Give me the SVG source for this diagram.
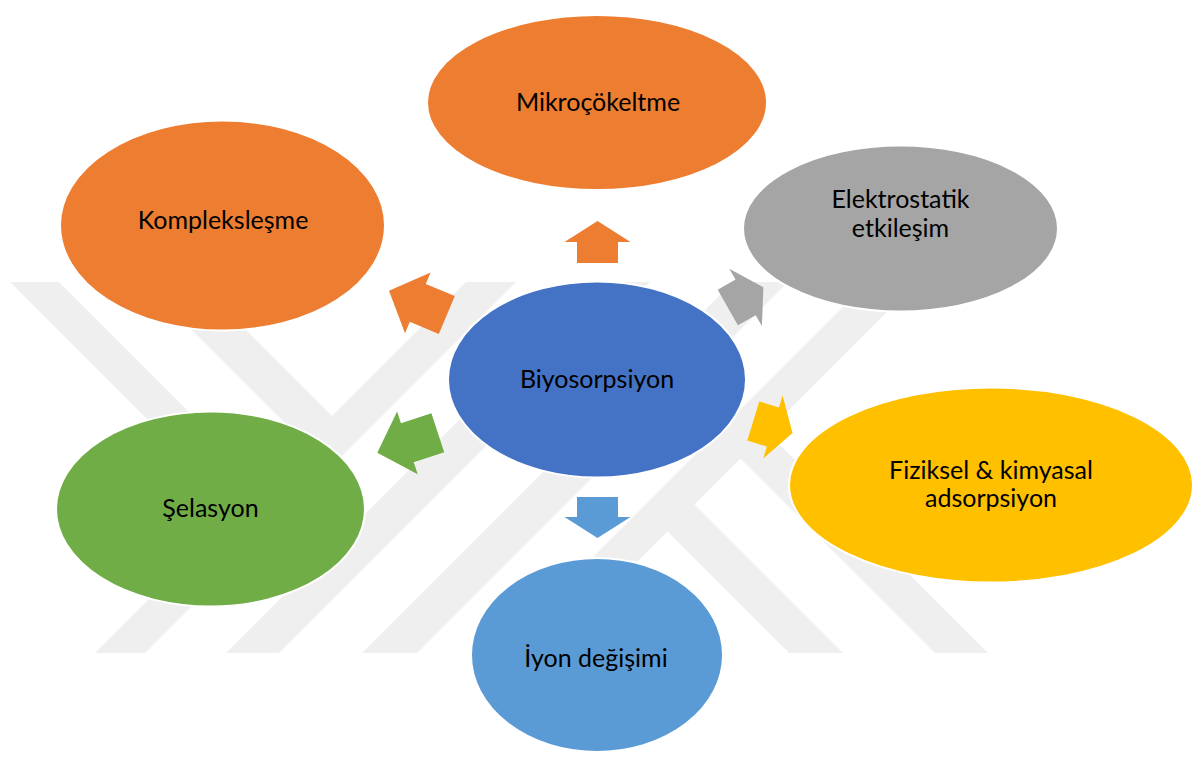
<svg xmlns="http://www.w3.org/2000/svg" width="1198" height="759" viewBox="0 0 1198 759">
<style>
.wm{fill:#efefef}
.node{stroke:#ffffff;stroke-width:2}
.lbl{font-family:Lato,"Liberation Sans",Arial,sans-serif;font-size:25px;fill:#000000;text-anchor:middle}
</style>
<defs>
<clipPath id="wmclip"><rect x="0" y="282" width="1198" height="371"/></clipPath>
</defs>
<rect x="0" y="0" width="1198" height="759" fill="#ffffff"/>
<g id="watermark" clip-path="url(#wmclip)">
<polygon class="wm" points="466,282 516,282 145,653 95,653"/>
<polygon class="wm" points="597,282 650,282 279,653 226,653"/>
<polygon class="wm" points="733,282 788,282 417,653 362,653"/>
<polygon class="wm" points="868,282 917,282 546,653 497,653"/>
<polygon class="wm" points="10,282 59,282 341,564 316.5,588.5"/>
<polygon class="wm" points="144,282 198,282 344.5,428.5 317.5,455.5"/>
<polygon class="wm" points="682.5,492.5 843,653 789,653 655.5,519.5"/>
<polygon class="wm" points="755,420 988,653 935,653 728.5,446.5"/>
</g>
<g id="connectors">
<polygon fill="#ED7D31" points="597.5,221 630.5,242 618,242 618,263 577,263 577,242 564.5,242"/>
<polygon fill="#ED7D31" points="389,290.7 430.6,272.4 425.8,283.9 454.8,296.1 438.8,333.9 409.8,321.7 405,333.2"/>
<polygon fill="#A5A5A5" points="763.4,287.2 729.3,268.7 735.5,279.6 717.7,289.7 737.9,325.3 755.7,315.2 761.9,326.1"/>
<polygon fill="#FFC000" points="792.5,433.1 782.6,395.5 778.9,407.4 759.3,401.4 747.3,440.6 766.9,446.6 763.2,458.5"/>
<polygon fill="#70AD47" points="377.3,452.7 397.1,411.4 401,423.3 431.4,413.3 444.2,452.3 413.8,462.3 417.7,474.2"/>
<polygon fill="#5B9BD5" points="577,497 618,497 618,517 630.5,517 597.5,538 564.5,517 577,517"/>
</g>
<g id="node-mikrocokeltme">
<ellipse class="node" cx="597" cy="102.5" rx="170" ry="87.5" fill="#ED7D31"/>
<text class="lbl" x="598" y="111">Mikroçökeltme</text>
</g>
<g id="node-komplekslesme">
<ellipse class="node" cx="222.5" cy="225.5" rx="162.5" ry="105" fill="#ED7D31"/>
<text class="lbl" x="223" y="229">Kompleksleşme</text>
</g>
<g id="node-elektrostatik">
<ellipse class="node" cx="900.5" cy="228.5" rx="157.5" ry="83" fill="#A5A5A5"/>
<text class="lbl" x="900.5" y="208">Elektrostatik</text>
<text class="lbl" x="900.5" y="237">etkileşim</text>
</g>
<g id="node-biyosorpsiyon">
<ellipse class="node" cx="597" cy="379.5" rx="149" ry="98" fill="#4472C4"/>
<text class="lbl" x="597" y="388">Biyosorpsiyon</text>
</g>
<g id="node-fiziksel">
<ellipse class="node" cx="991" cy="485" rx="202" ry="97.5" fill="#FFC000"/>
<text class="lbl" x="991" y="479">Fiziksel &amp; kimyasal</text>
<text class="lbl" x="991" y="507">adsorpsiyon</text>
</g>
<g id="node-selasyon">
<ellipse class="node" cx="210.5" cy="509" rx="154.5" ry="97.5" fill="#70AD47"/>
<text class="lbl" x="210.5" y="517">Şelasyon</text>
</g>
<g id="node-iyon">
<ellipse class="node" cx="597" cy="655" rx="126" ry="97" fill="#5B9BD5"/>
<text class="lbl" x="596" y="667">İyon değişimi</text>
</g>
</svg>
